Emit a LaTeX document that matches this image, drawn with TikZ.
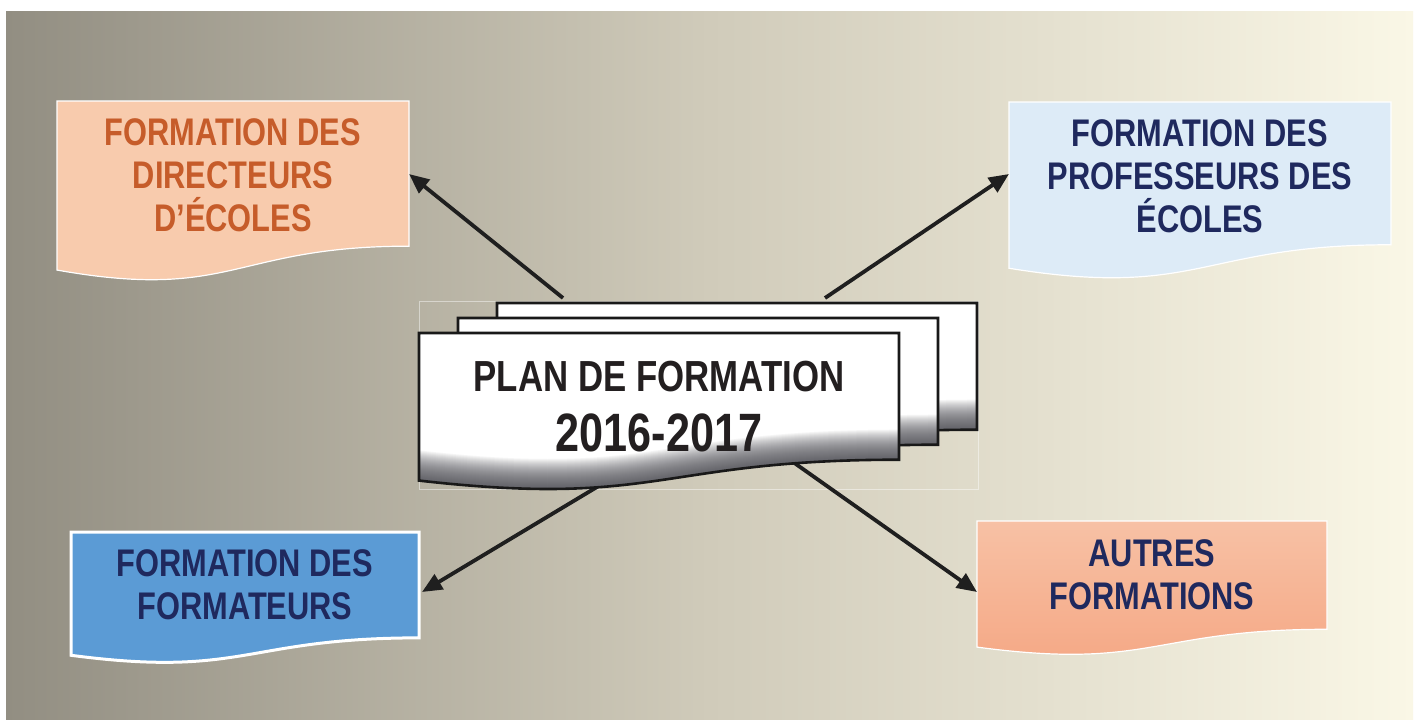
\documentclass[tikz,border=0pt]{standalone}
\usepackage{fontspec}
\setmainfont{Liberation Sans}
\newfontfamily\narrowfont[FakeStretch=0.8]{Liberation Sans}
\usetikzlibrary{arrows.meta}
\definecolor{bgL}{RGB}{146,142,130}
\definecolor{bgM}{RGB}{208,203,186}
\definecolor{bgR}{RGB}{250,247,230}
\definecolor{txtOrange}{RGB}{198,92,42}
\definecolor{txtNavy}{RGB}{31,41,94}
\definecolor{txtDark}{RGB}{35,31,32}
\definecolor{fillPeach}{RGB}{248,203,173}
\definecolor{fillSky}{RGB}{221,235,247}
\definecolor{fillBlue}{RGB}{91,155,213}
\definecolor{fillSalmonT}{RGB}{247,193,165}
\definecolor{fillSalmonB}{RGB}{245,167,132}
\definecolor{shadeGray}{RGB}{70,70,78}
% document shape: x, y (top-left), w, h
\newcommand{\mydoc}[4]{(#1,#2) -- ({#1+#3},#2) -- ({#1+#3},{#2+0.802*#4}) .. controls ({#1+0.5*#3},{#2+0.802*#4}) and ({#1+0.5*#3},{#2+1.1075*#4}) .. (#1,{#2+0.934*#4}) -- cycle}
\newcommand{\mywave}[4]{({#1+#3+40},{#2+0.802*#4}) -- ({#1+#3},{#2+0.802*#4}) .. controls ({#1+0.5*#3},{#2+0.802*#4}) and ({#1+0.5*#3},{#2+1.1075*#4}) .. (#1,{#2+0.934*#4}) -- ({#1-40},{#2+0.934*#4})}
\newcommand{\mysheet}[4]{%
  \begin{scope}
    \clip \mydoc{#1}{#2}{#3}{#4};
    \fill[white] \mydoc{#1}{#2}{#3}{#4};
    \foreach \lw in {60,58,...,2}{
      \draw[line width=\lw pt, shadeGray, opacity=0.05] \mywave{#1}{#2}{#3}{#4};
    }
  \end{scope}
  \draw[sheetline] \mydoc{#1}{#2}{#3}{#4};}
\tikzset{
  boxtext/.style={font=\narrowfont\bfseries\fontsize{38.5}{43}\selectfont, align=center, inner sep=0pt},
  sheetline/.style={draw=black!90, line width=2.6pt, line join=miter},
  arr/.style={draw=black!88, line width=3.8pt, -{Triangle[length=20pt,width=17pt]}, shorten >=0pt},
}
\begin{document}
\begin{tikzpicture}[x=1pt,y=-1pt]
\useasboundingbox (0,0) rectangle (1419,720);
\fill[white] (0,0) rectangle (1419,720);
\shade[left color=bgL, right color=bgR, middle color=bgM] (6,11) rectangle (1413,720);

% faint group frame
\draw[white, opacity=0.45, line width=0.8pt] (419,301) rectangle (978,489);

% boxes
\fill[fillPeach] \mydoc{57}{101}{352}{181};
\draw[white, line width=1.2pt] \mydoc{57}{101}{352}{181};
\fill[fillSky] \mydoc{1009}{102}{382}{178};
\draw[white, line width=1.2pt] \mydoc{1009}{102}{382}{178};
\fill[fillBlue] \mydoc{71}{532}{348}{132};
\draw[white, line width=3pt] \mydoc{71}{532}{348}{132};
\shade[top color=fillSalmonT, bottom color=fillSalmonB] \mydoc{977}{521}{350}{135};
\draw[white, line width=1.2pt] \mydoc{977}{521}{350}{135};

\node[boxtext, text=txtOrange] (dir) at (233,175) {FORMATION DES\\DIRECTEURS\\D’ÉCOLES};
\node[boxtext, text=txtNavy] (prof) at (1200,176) {FORMATION DES\\PROFESSEURS DES\\ÉCOLES};
\node[boxtext, text=txtNavy] (forma) at (245,585) {FORMATION DES\\FORMATEURS};
\node[boxtext, text=txtNavy] (autres) at (1152,574.5) {AUTRES\\FORMATIONS};

% arrows
\coordinate (a1s) at (563,298);
\coordinate (a1e) at (409,174);
\coordinate (a2s) at (825,298);
\coordinate (a2e) at (1009,174);
\coordinate (a3s) at (597,487);
\coordinate (a3e) at (422,592);
\coordinate (a4s) at (793,462);
\coordinate (a4e) at (977,592);
\draw[arr] (a1s) -- (a1e);
\draw[arr] (a2s) -- (a2e);
\draw[arr] (a3s) -- (a3e);
\draw[arr] (a4s) -- (a4e);

% stacked sheets
\mysheet{497}{303}{480}{158}
\mysheet{458}{318}{480}{158}
\mysheet{419}{333}{480}{158}

\node[font=\narrowfont\bfseries\fontsize{54}{60}\selectfont, text=txtDark, align=center, inner sep=0pt] (plan) at (659,407) {{\fontsize{43.5}{60}\selectfont PLAN DE FORMATION}\\2016-2017};
\end{tikzpicture}
\end{document}
